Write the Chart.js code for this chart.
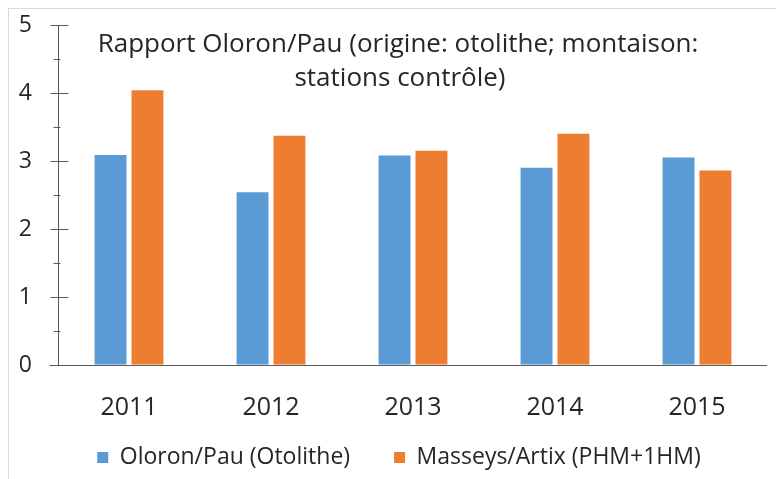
<!DOCTYPE html>
<html>
<head>
<meta charset="utf-8">
<script src="https://cdn.jsdelivr.net/npm/chart.js@4/dist/chart.umd.min.js"></script>
<style>
  html, body { margin: 0; padding: 0; background: #fff; }
  #wrap { width: 776px; height: 479px; }
</style>
</head>
<body>
<div id="wrap"><canvas id="ratioChart" width="776" height="479"></canvas></div>
<script>
// DATA
const years = ['2011', '2012', '2013', '2014', '2015'];
const oloronPau = [3.09, 2.54, 3.08, 2.90, 3.05];
const masseysArtix = [4.04, 3.37, 3.15, 3.40, 2.86];
const titleLines = ['Rapport Oloron/Pau (origine: otolithe; montaison:', 'stations contrôle)'];

const FONT = '"Open Sans", "Noto Sans", sans-serif';

// frame, axis ticks, legend placement and the title sitting inside the plot
const decor = {
    id: 'decor',
    beforeUpdate(chart) {
        const lg = chart.legend;
        if (lg && !lg._fixed) {
            const fit = lg.fit;
            lg.fit = function () {
                fit.call(this);
                this.height = 59;
                this.minSize = { width: this.width, height: 59 };
            };
            lg._fixed = true;
        }
    },
    afterLayout(chart) {
        // the wide item gap also pads vertically, so pull the legend up a bit
        const lg = chart.legend;
        lg.top -= 18;
        lg.height += 18;
        lg.left += 15;
        lg.right += 15;
    },
    beforeDraw(chart) {
        const { ctx } = chart;
        ctx.save();
        ctx.strokeStyle = '#d9d9d9';
        ctx.lineWidth = 1;
        ctx.strokeRect(8.5, 8.5, 800, 500);
        ctx.restore();
    },
    afterDraw(chart) {
        const { ctx, scales: { x, y } } = chart;
        ctx.save();
        ctx.strokeStyle = '#595959';
        ctx.lineWidth = 1;
        const ax = Math.round(x.left) + 0.5;
        // major ticks cross the axis, minor ticks sit on the left
        for (let v = 0; v <= 5; v += 0.5) {
            const py = Math.round(y.getPixelForValue(v)) + 0.5;
            ctx.beginPath();
            if (v % 1 === 0) {
                ctx.moveTo(ax - 8, py);
                ctx.lineTo(ax + 10, py);
            } else {
                ctx.moveTo(ax - 5, py);
                ctx.lineTo(ax + 2, py);
            }
            ctx.stroke();
        }
        // x axis line extends a bit left of the y axis
        const by = Math.round(y.getPixelForValue(0)) + 0.5;
        ctx.beginPath();
        ctx.moveTo(ax - 9, by);
        ctx.lineTo(x.right - 1, by);
        ctx.stroke();

        ctx.fillStyle = '#262626';
        ctx.font = '26px ' + FONT;
        ctx.textAlign = 'center';
        ctx.textBaseline = 'middle';
        ctx.fillText(titleLines[0], 398, 45, 612);
        ctx.fillText(titleLines[1], 400, 79);
        ctx.restore();
    }
};

const ctx = document.getElementById('ratioChart');

new Chart(ctx, {
    type: 'bar',
    data: {
        labels: years,
        datasets: [{
            label: 'Oloron/Pau (Otolithe)',
            data: oloronPau,
            backgroundColor: '#5B9BD5',
            categoryPercentage: 0.52,
            barPercentage: 0.865
        }, {
            label: 'Masseys/Artix (PHM+1HM)',
            data: masseysArtix,
            backgroundColor: '#ED7D31',
            categoryPercentage: 0.52,
            barPercentage: 0.865
        }]
    },
    options: {
        responsive: false,
        animation: false,
        layout: {
            padding: { top: 0, right: 8, left: 0, bottom: 0 }
        },
        scales: {
            x: {
                afterFit(scale) { scale.height = 55; },
                grid: { display: false },
                border: { display: false },
                ticks: {
                    color: '#262626',
                    font: { size: 25, family: FONT },
                    padding: 20
                }
            },
            y: {
                min: 0,
                max: 5,
                afterFit(scale) {
                    scale.width = 58;
                    scale.paddingTop = 25;
                    scale.paddingBottom = 0;
                },
                grid: { drawOnChartArea: false, color: 'transparent', tickLength: 8 },
                border: { color: '#595959' },
                ticks: {
                    stepSize: 1,
                    color: '#262626',
                    font: { size: 23, family: FONT },
                    padding: 18
                }
            }
        },
        plugins: {
            legend: {
                position: 'bottom',
                labels: {
                    color: '#262626',
                    font: { size: 23, family: FONT },
                    boxWidth: 11,
                    boxHeight: 11,
                    padding: 44
                }
            },
            tooltip: { enabled: false }
        }
    },
    plugins: [decor]
});
</script>
</body>
</html>
